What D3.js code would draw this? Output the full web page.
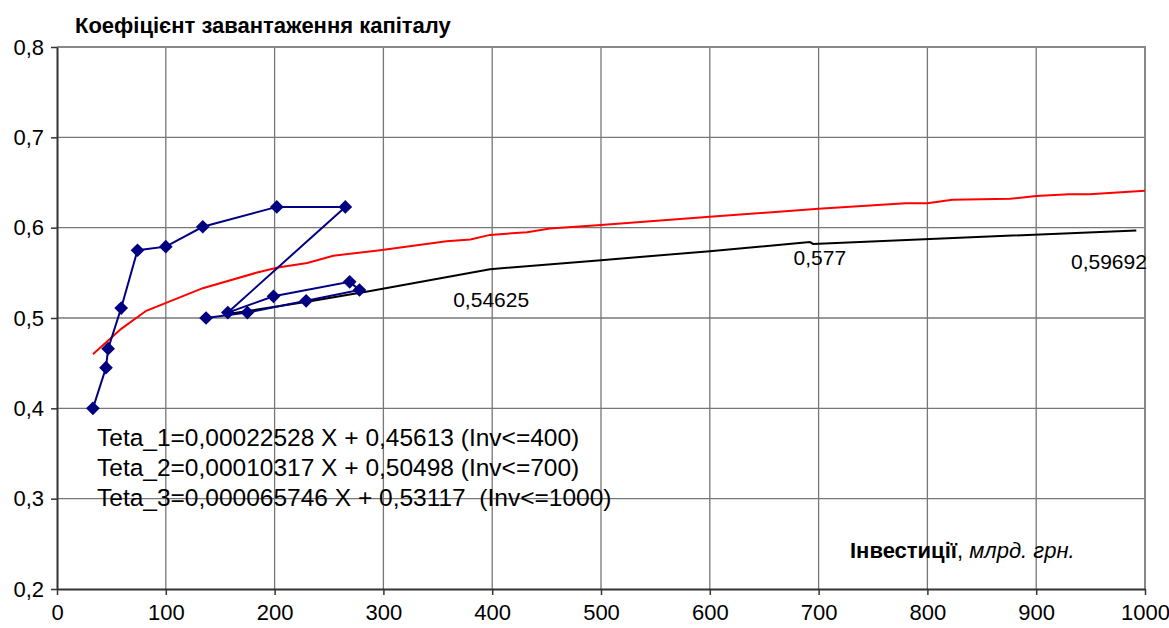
<!DOCTYPE html>
<html>
<head>
<meta charset="utf-8">
<script src="https://cdn.jsdelivr.net/npm/d3@7"></script>
<style>
  body { margin: 0; background: #fff; }
  svg { font-family: "Liberation Sans", Arial, sans-serif; }
</style>
</head>
<body>
<script>
// Observed points (investment, capital loading)
var obsInv = [33, 45, 47, 59, 74, 100, 134, 202, 265, 157, 199, 269, 278, 229, 175, 137];
var obsTeta = [0.400, 0.445, 0.466, 0.511, 0.575, 0.579, 0.601, 0.623, 0.623, 0.506, 0.524, 0.540, 0.531, 0.519, 0.506, 0.500];

// Smooth red curve
var redInv = [33, 59, 82, 134, 183, 203, 230, 254, 297, 358, 380, 398, 432, 453, 500, 600, 700, 780, 800, 823, 876, 900, 930, 949, 1000];
var redTeta = [0.460, 0.488, 0.508, 0.533, 0.550, 0.556, 0.561, 0.569, 0.575, 0.585, 0.587, 0.592, 0.595, 0.599, 0.603, 0.612, 0.621, 0.627, 0.627, 0.631, 0.632, 0.635, 0.637, 0.637, 0.641];

// Piecewise linear fit (black)
var fitInv = [160, 230, 288, 398, 500, 600, 692, 695, 992];
var fitTeta = [0.505, 0.518, 0.530, 0.554, 0.564, 0.574, 0.584, 0.582, 0.597];

var xTicks = [0, 100, 200, 300, 400, 500, 600, 700, 800, 900, 1000];
var yTicks = [0.2, 0.3, 0.4, 0.5, 0.6, 0.7, 0.8];

var fitLabels = [
  {x: 400, y: 0.54625, text: "0,54625", dx: -39, dy: 31},
  {x: 700, y: 0.577, text: "0,577", dx: -25, dy: 17},
  {x: 1000, y: 0.59692, text: "0,59692", dx: -74, dy: 39}
];
var equations = [
  "Teta_1=0,00022528 X + 0,45613 (Inv<=400)",
  "Teta_2=0,00010317 X + 0,50498 (Inv<=700)",
  "Teta_3=0,000065746 X + 0,53117  (Inv<=1000)"
];

var width = 1169, height = 628;
var margin = {left: 57, top: 47, right: 24, bottom: 39};

var svg = d3.select("body").append("svg")
  .attr("width", width)
  .attr("height", height);

var x = d3.scaleLinear().domain([0, 1000]).range([margin.left, width - margin.right]);
var y = d3.scaleLinear().domain([0.2, 0.8]).range([height - margin.bottom, margin.top]);

var fmt = function(d) { return d3.format(".1f")(d).replace(".", ","); };

// grid
svg.append("g")
  .selectAll("line.v")
  .data(xTicks.slice(1))
  .enter().append("line")
  .attr("x1", d => x(d)).attr("x2", d => x(d))
  .attr("y1", y(0.8)).attr("y2", y(0.2))
  .attr("stroke", "#777").attr("stroke-width", 1.3);
svg.append("g")
  .selectAll("line.h")
  .data(yTicks.slice(1))
  .enter().append("line")
  .attr("x1", x(0)).attr("x2", x(1000))
  .attr("y1", d => y(d)).attr("y2", d => y(d))
  .attr("stroke", "#777").attr("stroke-width", 1.3);

// frame top/right
svg.append("path")
  .attr("d", "M" + x(0) + "," + y(0.8) + "H" + x(1000) + "V" + y(0.2))
  .attr("fill", "none").attr("stroke", "#888").attr("stroke-width", 2);

// axes
var xAxis = svg.append("g")
  .attr("transform", "translate(0," + y(0.2) + ")")
  .call(d3.axisBottom(x).tickValues(xTicks).tickFormat(d3.format("d")).tickSize(6).tickPadding(9).tickSizeOuter(0));
var yAxis = svg.append("g")
  .attr("transform", "translate(" + x(0) + ",0)")
  .call(d3.axisLeft(y).tickValues(yTicks).tickFormat(fmt).tickSize(6).tickPadding(7).tickSizeOuter(0));
[xAxis, yAxis].forEach(function(a) {
  a.select(".domain").attr("stroke", "#333").attr("stroke-width", 2);
  a.selectAll(".tick line").attr("stroke", "#333").attr("stroke-width", 1.5);
  a.selectAll(".tick text").attr("fill", "#000").style("font-size", "22px").style("font-family", "Liberation Sans, Arial, sans-serif");
});

var line = d3.line().x(d => x(d[0])).y(d => y(d[1]));

// red curve
svg.append("path")
  .datum(d3.zip(redInv, redTeta))
  .attr("d", line)
  .attr("fill", "none").attr("stroke", "#ff0000").attr("stroke-width", 2);

// black fit
svg.append("path")
  .datum(d3.zip(fitInv, fitTeta))
  .attr("d", line)
  .attr("fill", "none").attr("stroke", "#000").attr("stroke-width", 2);

// observed series
var obs = d3.zip(obsInv, obsTeta);
svg.append("path")
  .datum(obs)
  .attr("d", line)
  .attr("fill", "none").attr("stroke", "#000080").attr("stroke-width", 2);
svg.append("g")
  .selectAll("path")
  .data(obs)
  .enter().append("path")
  .attr("d", d3.symbol().type(d3.symbolDiamond2).size(120))
  .attr("transform", d => "translate(" + x(d[0]) + "," + y(d[1]) + ")")
  .attr("fill", "#000080");

// fit value labels
svg.append("g")
  .selectAll("text")
  .data(fitLabels)
  .enter().append("text")
  .attr("x", d => x(d.x) + d.dx)
  .attr("y", d => y(d.y) + d.dy)
  .attr("font-size", 21)
  .attr("fill", "#000")
  .text(d => d.text);

// equations
svg.append("g")
  .selectAll("text")
  .data(equations)
  .enter().append("text")
  .attr("x", 97)
  .attr("y", (d, i) => 446 + i * 30)
  .attr("font-size", 24.5)
  .attr("fill", "#000")
  .style("white-space", "pre")
  .text(d => d);

// title
svg.append("text")
  .attr("x", 75)
  .attr("y", 33)
  .attr("font-size", 22)
  .attr("font-weight", "bold")
  .text("Коефіцієнт завантаження капіталу");

// x axis title
var xt = svg.append("text")
  .attr("x", 850)
  .attr("y", 558)
  .attr("font-size", 22);
xt.append("tspan").attr("font-weight", "bold").text("Інвестиції");
xt.append("tspan").text(", ");
xt.append("tspan").attr("font-style", "italic").text("млрд. грн.");
</script>
</body>
</html>
